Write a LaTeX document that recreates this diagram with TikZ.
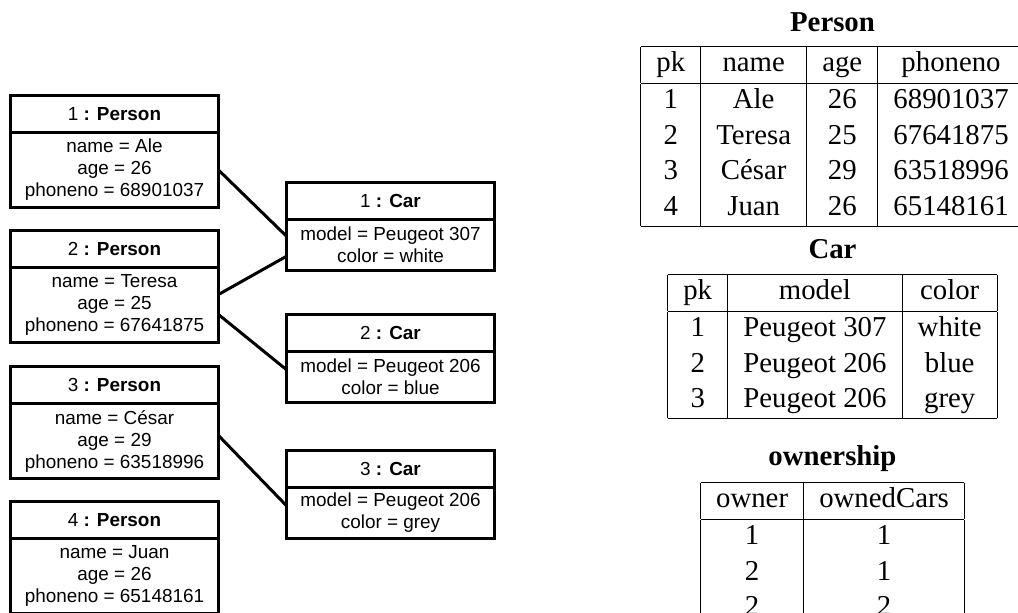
\documentclass[tikz,border=0pt]{standalone}
\usepackage{fontspec}
\setmainfont{Liberation Serif}
\newfontfamily\umlfont{Liberation Sans}
\usetikzlibrary{positioning}
\newcommand{\umltext}{\umlfont\fontsize{18.9}{22}\selectfont}
\newcommand{\tabtext}{\fontsize{28.8}{35.5}\selectfont}
\setlength{\tabcolsep}{15.6pt}
\setlength{\arrayrulewidth}{1.1pt}

\begin{document}
\begin{tikzpicture}[x=1pt,y=-1pt]
    \tikzstyle{every node}=[inner sep=0pt,outer sep=0pt]
    \tikzstyle{objhead}=[draw,line width=3pt,minimum width=208pt,minimum height=37.5pt,font=\umltext]
    \tikzstyle{objbody}=[draw,line width=3pt,minimum width=208pt,align=center,font=\umltext]
    \tikzstyle{link}=[line width=3pt]
    \useasboundingbox (0,0) rectangle (1018,613);
    \clip (0,0) rectangle (1018,613);
    \draw (114.5,95) node[objhead,anchor=north] (p1) {1 \textbf{: Person}};
    \node[objbody,minimum height=75pt,below=0pt of p1] (p1b) {name = Ale\\age = 26\\phoneno = 68901037};
    \draw (114.5,230) node[objhead,anchor=north] (p2) {2 \textbf{: Person}};
    \node[objbody,minimum height=75pt,below=0pt of p2] (p2b) {name = Teresa\\age = 25\\phoneno = 67641875};
    \draw (114.5,366) node[objhead,anchor=north] (p3) {3 \textbf{: Person}};
    \node[objbody,minimum height=75pt,below=0pt of p3] (p3b) {name = C\'esar\\age = 29\\phoneno = 63518996};
    \draw (114.5,501) node[objhead,anchor=north] (p4) {4 \textbf{: Person}};
    \node[objbody,minimum height=75pt,below=0pt of p4] (p4b) {name = Juan\\age = 26\\phoneno = 65148161};
    \draw (390.5,182) node[objhead,anchor=north] (c1) {1 \textbf{: Car}};
    \node[objbody,minimum height=50.5pt,below=0pt of c1] (c1b) {model = Peugeot 307\\color = white};
    \draw (390.5,314) node[objhead,anchor=north] (c2) {2 \textbf{: Car}};
    \node[objbody,minimum height=50.5pt,below=0pt of c2] (c2b) {model = Peugeot 206\\color = blue};
    \draw (390.5,450) node[objhead,anchor=north] (c3) {3 \textbf{: Car}};
    \node[objbody,minimum height=50.5pt,below=0pt of c3] (c3b) {model = Peugeot 206\\color = grey};
    \draw[link] (p1b.east) -- ([yshift=8.5pt]c1b.west);
    \draw[link] ([yshift=10.5pt]p2b.east) -- ([yshift=-11.5pt]c1b.west);
    \draw[link] ([yshift=-9.5pt]p2b.east) -- ([yshift=7pt]c2b.west);
    \draw[link] ([yshift=5.5pt]p3b.east) -- ([yshift=7pt]c3b.west);
    \draw (832.5,31) node[anchor=base,font=\tabtext\bfseries] (persontitle) {Person};
    \draw (832.5,46) node[anchor=north,font=\tabtext] (persontab) {%
        \begin{tabular}{|c|c|c|c|}
            \hline
            pk & name & age & phoneno\\
            \hline
            1 & Ale & 26 & 68901037\\
            2 & Teresa & 25 & 67641875\\
            3 & C\'esar & 29 & 63518996\\
            4 & Juan & 26 & 65148161\\
            \hline
        \end{tabular}};
    \draw (832.5,258) node[anchor=base,font=\tabtext\bfseries] (cartitle) {Car};
    \draw (832.5,274) node[anchor=north,font=\tabtext] (cartab) {%
        \begin{tabular}{|c|c|c|}
            \hline
            pk & model & color\\
            \hline
            1 & Peugeot 307 & white\\
            2 & Peugeot 206 & blue\\
            3 & Peugeot 206 & grey\\
            \hline
        \end{tabular}};
    \draw (832.5,465) node[anchor=base,font=\tabtext\bfseries] (owntitle) {ownership};
    \draw (832.5,482) node[anchor=north,font=\tabtext] (owntab) {%
        \begin{tabular}{|c|c|}
            \hline
            owner & ownedCars\\
            \hline
            1 & 1\\
            2 & 1\\
            2 & 2\\
            \hline
        \end{tabular}};
\end{tikzpicture}
\end{document}
